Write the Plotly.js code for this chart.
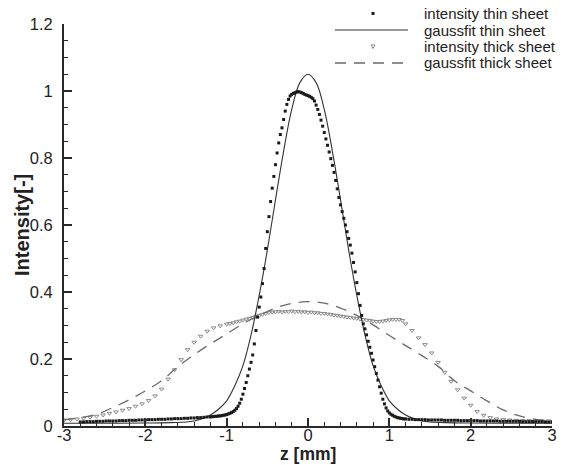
<!DOCTYPE html>
<html>
<head>
<meta charset="utf-8">
<script src="https://cdn.plot.ly/plotly-3.0.1.min.js"></script>
<style>html,body{margin:0;padding:0;background:#fff;}#chart{width:567px;height:465px;}</style>
</head>
<body>
<div id="chart"></div>
<script>
// ---------- DATA ----------
const thinZ = [
 -2.80,-2.76,-2.72,-2.68,-2.64,-2.60,-2.56,-2.52,-2.48,-2.44,-2.40,-2.36,-2.32,-2.28,-2.24,-2.20,-2.16,-2.12,-2.08,-2.04,
 -2.00,-1.96,-1.92,-1.88,-1.84,-1.80,-1.76,-1.72,-1.68,-1.64,-1.60,-1.56,-1.52,-1.48,-1.44,-1.40,-1.36,-1.32,-1.28,-1.24,
 -1.20,-1.18,-1.16,-1.14,-1.12,-1.10,-1.08,-1.06,-1.04,-1.02,
 -1.00,-0.98,-0.96,-0.94,-0.92,-0.90,-0.88,-0.86,-0.84,-0.82,
 -0.80,-0.78,-0.76,-0.74,-0.72,-0.70,-0.68,-0.66,-0.64,-0.62,
 -0.60,-0.58,-0.56,-0.54,-0.52,-0.50,-0.48,-0.46,-0.44,-0.42,
 -0.40,-0.38,-0.36,-0.34,-0.32,-0.30,-0.28,-0.26,-0.24,-0.22,
 -0.20,-0.18,-0.16,-0.14,-0.12,-0.10,-0.08,-0.06,-0.04,-0.02,
 0.00,0.02,0.04,0.06,0.08,0.10,0.12,0.14,0.16,0.18,
 0.20,0.22,0.24,0.26,0.28,0.30,0.32,0.34,0.36,0.38,
 0.40,0.42,0.44,0.46,0.48,0.50,0.52,0.54,0.56,0.58,
 0.60,0.62,0.64,0.66,0.68,0.70,0.72,0.74,0.76,0.78,
 0.80,0.82,0.84,0.86,0.88,0.90,0.92,0.94,0.96,0.98,
 1.00,1.02,1.04,1.06,1.08,1.10,1.12,1.14,1.16,1.18,1.20,
 1.24,1.28,1.32,1.36,1.40,1.44,1.48,1.52,1.56,1.60,1.64,1.68,1.72,1.76,1.80,1.84,1.88,1.92,1.96,2.00,
 2.04,2.08,2.12,2.16,2.20,2.24,2.28,2.32,2.36,2.40,2.44,2.48,2.52,2.56,2.60,2.64,2.68,2.72,2.76,2.80,
 2.84,2.88,2.92,2.96,3.00
];
const thinIntensity = [
 0.012,0.012,0.013,0.013,0.013,0.014,0.014,0.014,0.015,0.015,0.015,0.015,0.016,0.016,0.016,0.017,0.017,0.017,0.018,0.018,
 0.018,0.019,0.019,0.019,0.020,0.020,0.020,0.021,0.021,0.022,0.022,0.022,0.023,0.023,0.024,0.024,0.025,0.025,0.026,0.027,
 0.027,0.028,0.028,0.029,0.029,0.030,0.030,0.031,0.032,0.033,
 0.034,0.036,0.038,0.040,0.043,0.047,0.052,0.059,0.068,0.080,
 0.095,0.112,0.130,0.150,0.170,0.190,0.212,0.245,0.285,0.325,
 0.355,0.385,0.425,0.470,0.530,0.580,0.625,0.670,0.710,0.745,
 0.780,0.815,0.845,0.870,0.890,0.915,0.940,0.960,0.975,0.985,
 0.990,0.993,0.995,0.997,0.998,0.997,0.995,0.993,0.990,0.988,
 0.986,0.984,0.981,0.977,0.970,0.958,0.945,0.930,0.913,0.895,
 0.876,0.857,0.838,0.818,0.798,0.778,0.757,0.733,0.708,0.682,
 0.660,0.640,0.620,0.600,0.580,0.560,0.540,0.516,0.488,0.460,
 0.428,0.395,0.360,0.330,0.305,0.290,0.272,0.253,0.235,0.217,
 0.197,0.177,0.157,0.137,0.117,0.098,0.080,0.066,0.054,0.045,
 0.039,0.035,0.032,0.029,0.027,0.025,0.024,0.023,0.022,0.021,0.021,
 0.020,0.020,0.019,0.019,0.019,0.019,0.018,0.018,0.018,0.018,0.018,0.017,0.017,0.017,0.017,0.017,0.016,0.016,0.016,0.016,
 0.016,0.016,0.015,0.015,0.015,0.015,0.015,0.015,0.014,0.014,0.014,0.014,0.014,0.014,0.014,0.013,0.013,0.013,0.013,0.013,
 0.013,0.013,0.012,0.012,0.012
];

const gaussThinZ = [-3.0,-2.5,-2.0,-1.7,-1.5,-1.4,-1.3,-1.2,-1.1,-1.0,-0.9,-0.8,-0.7,-0.6,-0.5,-0.4,-0.3,-0.2,-0.1,
 0.0,0.1,0.2,0.3,0.4,0.5,0.6,0.7,0.8,0.9,1.0,1.1,1.2,1.3,1.4,1.5,1.7,2.0,2.5,3.0];
const gaussThin = [0.008,0.008,0.009,0.010,0.012,0.015,0.022,0.033,0.050,0.075,0.120,0.180,0.272,0.390,0.525,0.675,0.820,0.945,1.025,
 1.050,1.025,0.945,0.820,0.675,0.525,0.390,0.272,0.180,0.120,0.075,0.050,0.033,0.022,0.015,0.012,0.010,0.009,0.008,0.008];

const thickZ = [
 -3.00,-2.92,-2.84,-2.76,-2.68,-2.60,-2.52,-2.44,-2.36,-2.28,-2.20,-2.12,-2.04,-1.96,-1.88,-1.80,-1.72,-1.64,-1.56,-1.48,
 -1.40,-1.32,-1.24,-1.16,-1.08,-1.00,
 -0.96,-0.92,-0.88,-0.84,-0.80,-0.76,-0.72,-0.68,-0.64,-0.60,-0.56,-0.52,-0.48,-0.44,-0.40,
 -0.36,-0.32,-0.28,-0.24,-0.20,-0.16,-0.12,-0.08,-0.04,
 0.00,0.04,0.08,0.12,0.16,0.20,0.24,0.28,0.32,0.36,0.40,0.44,0.48,0.52,0.56,0.60,
 0.64,0.68,0.72,0.76,0.80,0.84,0.88,0.92,0.96,1.00,1.04,1.08,1.12,1.16,1.20,
 1.28,1.36,1.44,1.52,1.60,1.68,1.76,1.84,1.92,2.00,2.08,2.16,2.24,2.32,2.40,2.48,2.56,2.64,2.72,2.80,2.88,2.96
];
const thickIntensity = [
 0.018,0.019,0.021,0.023,0.026,0.029,0.033,0.038,0.042,0.047,0.052,0.059,0.066,0.076,0.090,0.110,0.140,0.168,0.198,0.228,
 0.250,0.268,0.283,0.293,0.299,0.304,
 0.306,0.308,0.311,0.313,0.316,0.319,0.321,0.324,0.327,0.330,0.333,0.336,0.338,0.340,0.341,
 0.342,0.340,0.342,0.341,0.343,0.341,0.342,0.340,0.341,
 0.339,0.340,0.338,0.338,0.336,0.336,0.334,0.333,0.331,0.330,0.328,0.327,0.325,0.324,0.322,0.321,
 0.319,0.318,0.316,0.315,0.313,0.312,0.312,0.313,0.315,0.317,0.318,0.318,0.318,0.315,0.305,
 0.285,0.263,0.243,0.218,0.190,0.160,0.133,0.108,0.083,0.062,0.043,0.032,0.025,0.021,0.019,0.018,0.017,0.016,0.016,0.015,0.015,0.015
];

const gaussThickZ = [-3.0,-2.8,-2.6,-2.4,-2.2,-2.0,-1.8,-1.6,-1.4,-1.2,-1.0,-0.8,-0.6,-0.4,-0.2,
 0.0,0.2,0.4,0.6,0.8,1.0,1.2,1.4,1.6,1.8,2.0,2.2,2.4,2.6,2.8,3.0];
const gaussThick = [0.018,0.025,0.035,0.055,0.078,0.105,0.135,0.177,0.213,0.245,0.275,0.305,0.330,0.352,0.366,
 0.371,0.367,0.352,0.330,0.302,0.270,0.240,0.210,0.178,0.135,0.105,0.075,0.048,0.030,0.020,0.016];

const seriesNames = ['intensity thin sheet','gaussfit thin sheet','intensity thick sheet','gaussfit thick sheet'];
const xTitle = 'z [mm]';
const yTitle = 'Intensity[-]';
const xTickVals = [-3,-2,-1,0,1,2,3];
const xTickText = ['-3','-2','-1','0','1','2','3'];
const yTickVals = [0,0.2,0.4,0.6,0.8,1,1.2];
const yTickText = ['0','0.2','0.4','0.6','0.8','1','1.2'];

// ---------- STYLE ----------
const FONT = 'Liberation Sans, Arial, Helvetica, sans-serif';
const AX = '#2a2a2a';
const cThin = '#1a1a1a', cThinFit = '#333333', cThick = '#8c8c8c', cThickFit = '#6a6a6a';
const dashThick = '11px,8px';

const traces = [
  {x: thickZ, y: thickIntensity, name: seriesNames[2], mode: 'markers', type: 'scatter',
   marker: {symbol: 'triangle-down-open', size: 4, color: cThick, line: {width: 1, color: cThick}}},
  {x: gaussThickZ, y: gaussThick, name: seriesNames[3], mode: 'lines', type: 'scatter',
   line: {color: cThickFit, width: 1.3, dash: dashThick, shape: 'spline'}},
  {x: gaussThinZ, y: gaussThin, name: seriesNames[1], mode: 'lines', type: 'scatter',
   line: {color: cThinFit, width: 1.1, shape: 'spline'}},
  {x: thinZ, y: thinIntensity, name: seriesNames[0], mode: 'markers', type: 'scatter',
   marker: {symbol: 'square', size: 3, color: cThin}}
];

// legend drawn manually (long line samples like the reference)
const L = 64, R = 552, T = 24, B = 426;
const px = v => (v - L) / (R - L);
const py = v => (B - v) / (B - T);
const legRows = [13.5, 30, 46.5, 63];
const annotations = seriesNames.map((n, i) => ({
  xref: 'paper', yref: 'paper', x: px(423), y: py(legRows[i]), xanchor: 'left', yanchor: 'middle',
  text: n, showarrow: false, borderpad: 0, font: {family: FONT, size: 15, color: '#222'}
}));
annotations.push({
  xref: 'paper', yref: 'paper', x: px(308), y: py(465), xanchor: 'center', yanchor: 'bottom',
  text: '<b>' + xTitle + '</b>', showarrow: false, borderpad: 0, font: {family: FONT, size: 17.5, color: '#222'}
});
annotations.push({
  xref: 'paper', yref: 'paper', x: px(22), y: py(225), xanchor: 'center', yanchor: 'middle', textangle: -90,
  text: '<b>' + yTitle + '</b>', showarrow: false, borderpad: 0, font: {family: FONT, size: 20, color: '#222'}
});
const shapes = [
  {type: 'rect', xref: 'paper', yref: 'paper', xsizemode: 'pixel', ysizemode: 'pixel',
   xanchor: px(373), yanchor: py(legRows[0]), x0: -1.5, x1: 1.5, y0: -1.5, y1: 1.5,
   fillcolor: cThin, line: {width: 0}},
  {type: 'line', xref: 'paper', yref: 'paper', x0: px(335), x1: px(408), y0: py(legRows[1]), y1: py(legRows[1]),
   line: {color: cThinFit, width: 1.1}},
  {type: 'path', xref: 'paper', yref: 'paper', xsizemode: 'pixel', ysizemode: 'pixel',
   xanchor: px(373), yanchor: py(legRows[2]), path: 'M-2,1.6 L2,1.6 L0,-2 Z',
   line: {color: cThick, width: 1}},
  {type: 'line', xref: 'paper', yref: 'paper', x0: px(335), x1: px(408), y0: py(legRows[3]), y1: py(legRows[3]),
   line: {color: cThickFit, width: 1.3, dash: dashThick}}
];

const axisCommon = {
  showgrid: false, zeroline: false, showline: true, linewidth: 2, linecolor: AX, mirror: false,
  ticks: 'inside', ticklen: 8, tickwidth: 2, tickcolor: AX, tickmode: 'array',
  tickfont: {family: FONT, size: 16.5, color: '#222'}, automargin: false
};

const layout = {
  width: 567, height: 465,
  margin: {l: L, r: 567 - R, t: T, b: 465 - B, pad: 0},
  paper_bgcolor: '#fff', plot_bgcolor: '#fff',
  showlegend: false,
  font: {family: FONT, color: '#222'},
  xaxis: Object.assign({}, axisCommon, {
    range: [-3, 3], tickvals: xTickVals, ticktext: xTickText, ticklabelstandoff: -7,
    minor: {tickmode: 'linear', tick0: -3, dtick: 0.2, ticks: 'inside', ticklen: 4, tickwidth: 1, tickcolor: AX}
  }),
  yaxis: Object.assign({}, axisCommon, {
    range: [0, 1.2], tickvals: yTickVals, ticktext: yTickText, ticklabelstandoff: 6,
    minor: {tickmode: 'linear', tick0: 0, dtick: 0.05, ticks: 'inside', ticklen: 4, tickwidth: 1, tickcolor: AX}
  }),
  annotations: annotations,
  shapes: shapes
};

Plotly.newPlot('chart', traces, layout, {staticPlot: true, displayModeBar: false});
</script>
</body>
</html>
